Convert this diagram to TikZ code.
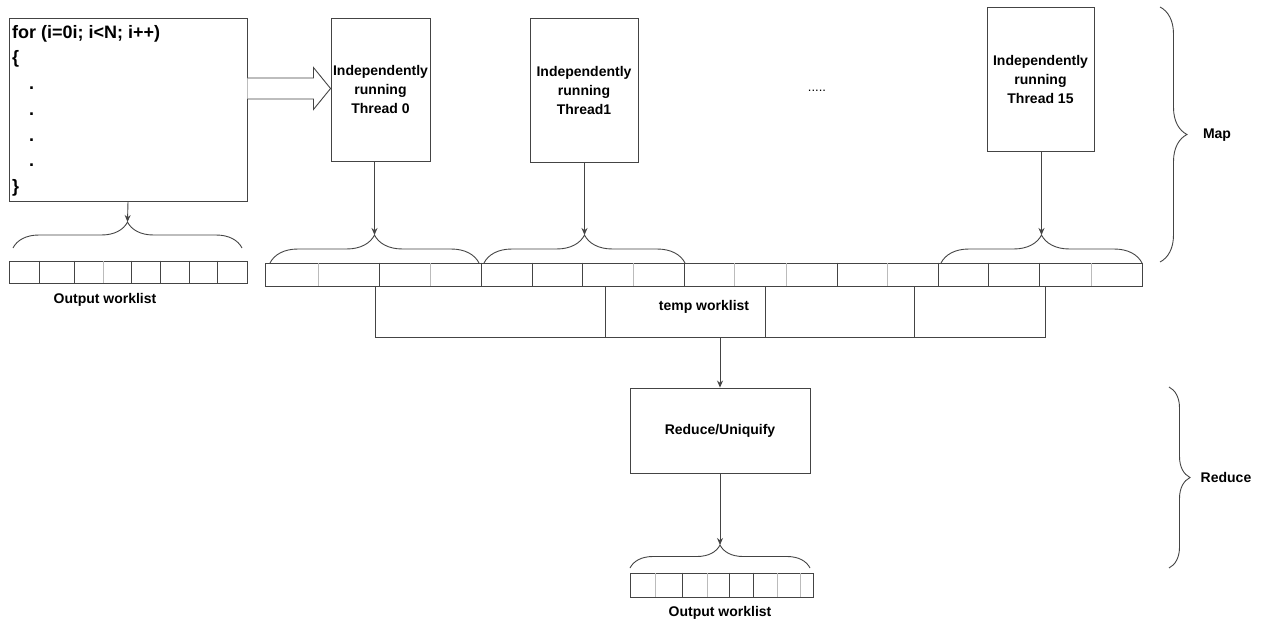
\documentclass[tikz,border=0pt]{standalone}
\usepackage{fontspec}
\setmainfont{Liberation Sans}
\usetikzlibrary{decorations.pathreplacing,arrows.meta,calc}
\definecolor{ln}{HTML}{444444}
\definecolor{lt}{HTML}{BBBBBB}
\begin{document}
\begin{tikzpicture}[x=1pt,y=-1pt,
  lbl/.style={font=\bfseries\fontsize{14}{19}\selectfont, inner sep=0pt},
  box/.style={draw=ln, line width=0.9pt, inner sep=0pt, align=center, font=\bfseries\fontsize{14}{19}\selectfont},
  list/.style={draw=ln, line width=0.8pt, inner sep=0pt},
  conn/.style={draw=ln, line width=0.9pt, -{Stealth[length=7pt,width=6pt]}},
  brc/.style={draw=ln, line width=0.9pt, decorate, decoration={brace, amplitude=#1}},
  cellrule/.style={draw=ln, line width=0.8pt},
  lightrule/.style={draw=lt, line width=0.8pt},
  hollow/.style={draw=ln, line width=0.9pt, fill=white}]
\useasboundingbox (0,0) rectangle (1261,623);

% for loop box
\node[box, minimum width=238pt, minimum height=183pt] (forbox) at (128,109.5) {};
\node[anchor=north west, align=left, inner sep=0pt, font=\bfseries\fontsize{18}{25.7}\selectfont] (fortext) at (12,25)
  {for (i=0i; i<N; i++)\\\{\\\hspace*{17pt}.\\\hspace*{17pt}.\\\hspace*{17pt}.\\\hspace*{17pt}.\\\}};

% threads
\node[box, minimum width=99pt, minimum height=143pt] (t0) at (380.5,89.5) {Independently\\running\\Thread 0};
\node[box, minimum width=108pt, minimum height=144pt] (t1) at (584,90) {Independently\\running\\Thread1};
\node[box, minimum width=107pt, minimum height=144pt] (t15) at (1040.5,79) {Independently\\running\\Thread 15};
\node[font=\fontsize{13}{16}\selectfont, inner sep=0pt] (dots) at (817,91) {.....};

% hollow arrow
\coordinate (ha) at ($(forbox.east |- t0.center)+(0,-1)$);
\draw[hollow] ($(ha)+(0,-10.5)$) -- ($(ha)+(66,-10.5)$) -- ($(ha)+(66,-21)$) -- (t0.west |- ha)
  -- ($(ha)+(66,21)$) -- ($(ha)+(66,10.5)$) -- ($(ha)+(0,10.5)$);

% left output worklist
\node[list, minimum width=238pt, minimum height=22pt] (outL) at (128,272) {};
\foreach \x in {39,74,131,160,189,217} \draw[cellrule] (\x,0 |- outL.north) -- (\x,0 |- outL.south);
\foreach \x in {103} \draw[lightrule] (\x,0 |- outL.north) -- (\x,0 |- outL.south);
\node[lbl] (outLlbl) at (105,300) {Output worklist};

% big array
\node[list, minimum width=877pt, minimum height=23pt] (arr) at (703.5,274.5) {};
\foreach \x in {379,481,532,582,684,837,938,988,1039} \draw[cellrule] (\x,0 |- arr.north) -- (\x,0 |- arr.south);
\foreach \x in {318,430,633,734,786,887,1091} \draw[lightrule] (\x,0 |- arr.north) -- (\x,0 |- arr.south);

% temp worklist
\draw[cellrule] (375,0 |- arr.south) -- (375,337) -- (1045,337) -- (1045,0 |- arr.south);
\foreach \x in {605,765,914} \draw[cellrule] (\x,0 |- arr.south) -- (\x,337);
\coordinate (tmpbot) at (720,337);
\node[lbl] (templbl) at (704,307) {temp worklist};

% braces
\draw[brc=26] (13,248) -- (242,248);
\coordinate (bL) at (127.5,222);
\draw[brc=28] (270,263) -- (479,263);
\coordinate (b1) at (374.5,235);
\draw[brc=28] (484,263) -- (685,263);
\coordinate (b2) at (584.5,235);
\draw[brc=28] (941,263) -- (1142,263);
\coordinate (b3) at (1041.5,235);

% reduce
\node[box, minimum width=180pt, minimum height=85pt] (red) at (720,430.5) {Reduce/Uniquify};
\draw[brc=23] (630,568) -- (810,568);
\coordinate (bB) at (720,545);
\node[list, minimum width=183pt, minimum height=24pt] (outB) at (721.5,585) {};
\foreach \x in {682,729,753} \draw[cellrule] (\x,0 |- outB.north) -- (\x,0 |- outB.south);
\foreach \x in {655,707,777,800} \draw[lightrule] (\x,0 |- outB.north) -- (\x,0 |- outB.south);
\node[lbl] (outBlbl) at (720,613) {Output worklist};

% map / reduce braces
\draw[brc=27] (1160,7) -- (1160,262);
\node[lbl] (maplbl) at (1217,135) {Map};
\draw[brc=21] (1169,387) -- (1169,568);
\node[lbl] (redlbl) at (1226,477) {Reduce};

% connectors
\draw[conn] (forbox.south) -- (bL);
\draw[conn] (t0.south -| b1) -- (b1);
\draw[conn] (t1.south -| b2) -- (b2);
\draw[conn] (t15.south -| b3) -- (b3);
\draw[conn] (tmpbot) -- (red.north);
\draw[conn] (red.south) -- (bB);
\end{tikzpicture}
\end{document}
